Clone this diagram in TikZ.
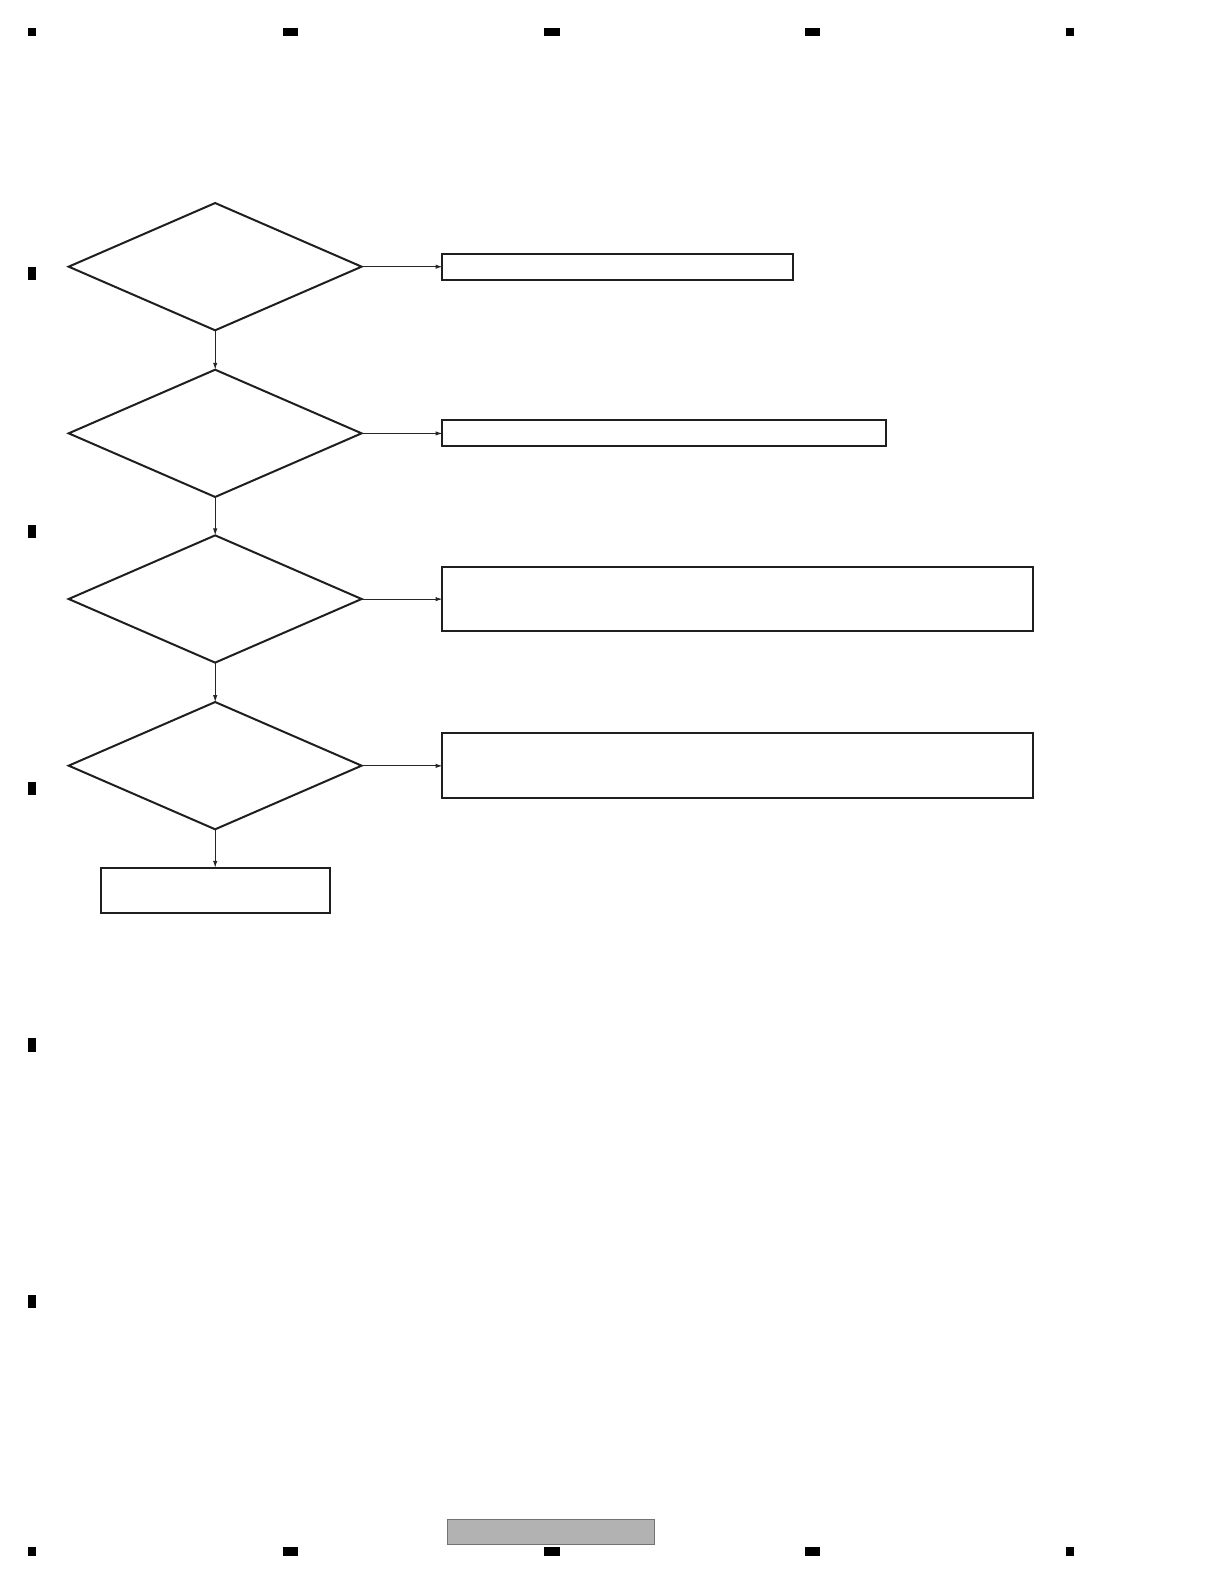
\documentclass[tikz,border=0pt]{standalone}
\usetikzlibrary{shapes.geometric,arrows.meta}
\tikzset{
  decision/.style={diamond,draw=black!88,line width=1pt,inner sep=0pt,outer sep=0pt,
                   minimum width=145pt,minimum height=63pt},
  action/.style={rectangle,draw=black!88,line width=1pt,inner sep=0pt,outer sep=0pt},
  flow/.style={-{Latex[length=3.5pt,width=2.2pt]},line width=.5pt,black!85},
  regmark/.style={fill=black}
}
\begin{document}
\begin{tikzpicture}[x=0.5pt,y=-0.5pt]
\useasboundingbox (0,0) rectangle (1224,1584);
\begin{scope}[scale=1.0101,transform shape]
% page marks
\foreach \x/\w in {28/8,280/15,539/15,797/15,1055/8} {
  \fill[regmark] (\x,28) rectangle ++(\w,8);
  \fill[regmark] (\x,1532) rectangle ++(\w,8);
}
\foreach \y in {264,520,774,1028,1282}
  \fill[regmark] (28,\y) rectangle ++(8,13);
% checks
\node[decision] (q1) at (213,264) {};
\node[decision] (q2) at (213,429) {};
\node[decision] (q3) at (213,593) {};
\node[decision] (q4) at (213,758) {};
% results
\node[action,anchor=west,minimum width=173.5pt,minimum height=13pt] (r1) at (438,264) {};
\node[action,anchor=west,minimum width=219.5pt,minimum height=13pt] (r2) at (438,429) {};
\node[action,anchor=west,minimum width=292.5pt,minimum height=32pt] (r3) at (438,593) {};
\node[action,anchor=west,minimum width=292.5pt,minimum height=32.5pt] (r4) at (438,758) {};
\node[action,anchor=north,minimum width=113.5pt,minimum height=22.5pt] (ok) at (213,859) {};
% connectors
\draw[flow] (q1.east) -- (r1.west);
\draw[flow] (q2.east) -- (r2.west);
\draw[flow] (q3.east) -- (r3.west);
\draw[flow] (q4.east) -- (r4.west);
\draw[flow] (q1.south) -- (q2.north);
\draw[flow] (q2.south) -- (q3.north);
\draw[flow] (q3.south) -- (q4.north);
\draw[flow] (q4.south) -- (ok.north);
% footer
\draw[draw=black!55,fill=black!30,line width=.6pt] (443,1504) rectangle (648,1529);
\end{scope}
\end{tikzpicture}
\end{document}
